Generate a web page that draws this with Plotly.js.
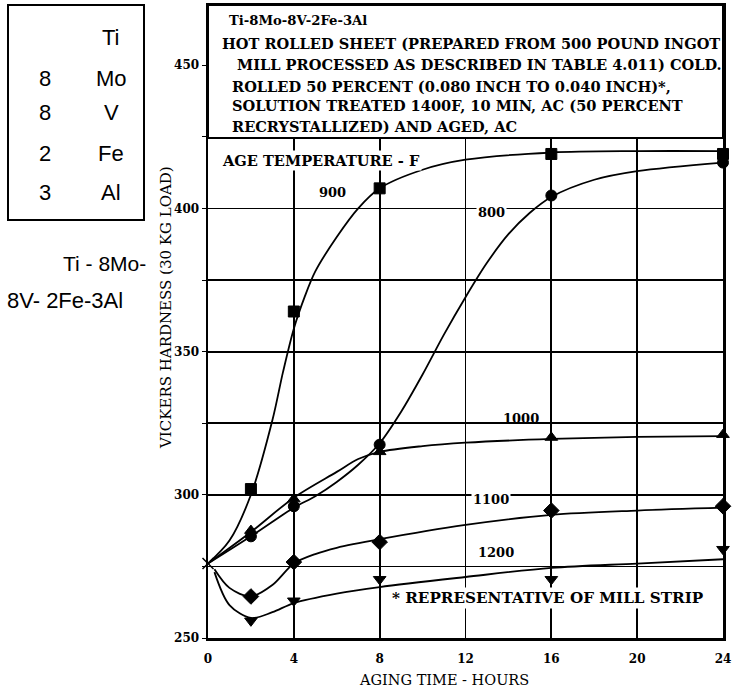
<!DOCTYPE html>
<html>
<head>
<meta charset="utf-8">
<script src="https://cdn.plot.ly/plotly-3.0.1.min.js"></script>
<style>html,body{margin:0;padding:0;background:#fff;}#chart{width:732px;height:692px;}</style>
</head>
<body>
<div id="chart"></div>
<script>
// ---- data ----
const xTickVals = [0, 4, 8, 12, 16, 20, 24];
const yTickVals = [250, 275, 300, 325, 350, 375, 400, 425, 450];
const yTickText = ['250', '', '300', '', '350', '', '400', '', '450'];

const startX = [0];
const startY = [276];

const hours = [2, 4, 8, 16, 24];
const pts900 = [302, 364, 407, 419, 419];
const pts800 = [285.5, 296, 317.5, 404.5, 416];
const pts1000 = [287.5, 298.5, 315, 320, 321];
const pts1100 = [264.5, 276.5, 283.5, 294.5, 296];
const pts1200 = [256, 263, 270.5, 270.5, 281];

// smooth faired curves as drawn in the figure
const c900x = [0, 1, 2, 3, 3.5, 4, 4.5, 5, 6, 7, 8, 10, 12, 16, 20, 24];
const c900y = [276, 284, 300, 326, 343, 358, 369, 378, 390, 400, 407, 413.5, 417, 419.5, 420, 420];
const c800x = [0, 2, 4, 5, 6, 7, 8, 9, 10, 11, 12, 13, 14, 15, 16, 18, 20, 24];
const c800y = [276, 285.5, 295.5, 299.5, 304.5, 310.5, 318, 329, 342, 356, 369, 381, 391, 398.5, 404, 410, 413, 416];
const c1000x = [0, 2, 4, 6, 7, 8, 10, 12, 16, 20, 24];
const c1000y = [276, 287, 299, 308, 312.5, 315, 317, 318.2, 319.5, 320.2, 320.5];
const c1100x = [0.3, 1, 2, 3, 4, 5, 6, 8, 12, 16, 20, 24];
const c1100y = [274, 267.5, 264.5, 268.5, 276, 279.3, 281.5, 284.5, 289.5, 293, 294.5, 295.5];
const c1200x = [0.3, 1, 2, 3, 4, 6, 8, 12, 16, 20, 24];
const c1200y = [273, 261.5, 257, 259, 262.2, 265.5, 267.8, 271.3, 274.5, 276, 277.5];

const boxLines = [
  'Ti-8Mo-8V-2Fe-3Al',
  'HOT ROLLED SHEET (PREPARED FROM 500 POUND INGOT',
  'MILL PROCESSED AS DESCRIBED IN TABLE 4.011) COLD.',
  'ROLLED 50 PERCENT (0.080 INCH TO 0.040 INCH)*,',
  'SOLUTION TREATED 1400F, 10 MIN, AC (50 PERCENT',
  'RECRYSTALLIZED) AND AGED, AC'
];
const compNums = ['', '8', '8', '2', '3'];
const compEls = ['Ti', 'Mo', 'V', 'Fe', 'Al'];

// ---- chart ----
const serif = 'DejaVu Serif, Liberation Serif, serif';
const sans = 'Liberation Sans, Arial, sans-serif';

function curve(x, y) {
  return {x: x, y: y, type: 'scatter', mode: 'lines', hoverinfo: 'skip',
    line: {color: '#000', width: 1.8, shape: 'spline', smoothing: 0.9}, showlegend: false};
}
function marks(x, y, sym, size) {
  return {x: x, y: y, type: 'scatter', mode: 'markers', cliponaxis: false,
    marker: {symbol: sym, size: size, color: '#000', line: {color: '#000', width: 1}}, showlegend: false};
}

const traces = [
  curve(c900x, c900y), curve(c800x, c800y), curve(c1000x, c1000y),
  curve(c1100x, c1100y), curve(c1200x, c1200y),
  marks(hours, pts900, 'square', 11),
  marks(hours, pts800, 'circle', 11),
  marks(hours, pts1000, 'triangle-up', 11),
  marks(hours, pts1100, 'diamond', 12),
  marks(hours, pts1200, 'triangle-down', 11),
  {x: startX, y: startY, type: 'scatter', mode: 'markers', cliponaxis: false,
   marker: {symbol: 'x-thin-open', size: 11, color: '#000', line: {color: '#000', width: 1.5}}, showlegend: false}
];

// pixel -> paper helpers (plot area: x 208..723, y 5..638)
const L = 208, R = 723, T = 5, B = 638;
const px = v => (v - L) / (R - L);
const py = v => (B - v) / (B - T);
const hx = v => (v - L) / ((R - L) / 24);   // pixel -> hours

const annotations = [];
// text box lines
const boxLeft = [227, 220, 235, 230, 230, 230];
const boxY = [20, 43, 65, 86, 106, 126];
boxLines.forEach((t, i) => {
  annotations.push({xref: 'paper', yref: 'paper', x: px(boxLeft[i]), y: py(boxY[i]),
    xanchor: 'left', yanchor: 'middle', showarrow: false, text: t,
    font: {family: serif, size: i === 0 ? 13.2 : 14.6, color: '#000', weight: 'bold'}});
});
// composition box
compEls.forEach((t, i) => {
  const yy = [38, 78, 113, 153, 192][i];
  annotations.push({xref: 'paper', yref: 'paper', x: px(111), y: py(yy), xanchor: 'center', yanchor: 'middle',
    showarrow: false, text: t, font: {family: sans, size: 22, color: '#000'}});
  if (compNums[i]) annotations.push({xref: 'paper', yref: 'paper', x: px(45), y: py(yy), xanchor: 'center', yanchor: 'middle',
    showarrow: false, text: compNums[i], font: {family: sans, size: 22, color: '#000'}});
});
annotations.push({xref: 'paper', yref: 'paper', x: px(148), y: py(263), xanchor: 'right', yanchor: 'middle',
  showarrow: false, text: 'Ti - 8Mo-', font: {family: sans, size: 21, color: '#000'}});
annotations.push({xref: 'paper', yref: 'paper', x: px(5), y: py(300), xanchor: 'left', yanchor: 'middle',
  showarrow: false, text: '8V- 2Fe-3Al', font: {family: sans, size: 22, color: '#000'}});
// axis titles
annotations.push({xref: 'paper', yref: 'paper', x: px(444), y: py(680), xanchor: 'center', yanchor: 'middle',
  showarrow: false, text: 'AGING TIME - HOURS', font: {family: serif, size: 14.5, color: '#000'}});
annotations.push({xref: 'paper', yref: 'paper', x: px(166), y: py(308), xanchor: 'center', yanchor: 'middle',
  showarrow: false, textangle: -90, text: 'VICKERS HARDNESS (30 KG LOAD)', font: {family: serif, size: 15, color: '#000'}});
// in-plot labels (data coords)
const lab = (x, y, t, opts) => Object.assign({xref: 'x', yref: 'y', x: x, y: y, showarrow: false, text: t,
  font: {family: serif, size: 13, color: '#000', weight: 'bold'}, xanchor: 'center', yanchor: 'middle'}, opts || {});
annotations.push(lab(hx(220), 416.9, 'AGE TEMPERATURE - F', {xanchor: 'left', bgcolor: '#fff', font: {family: serif, size: 14.6, color: '#000', weight: 'bold'}}));
annotations.push(lab(hx(332), 405.7, '900'));
annotations.push(lab(hx(491), 398.6, '800', {bgcolor: '#fff'}));
annotations.push(lab(hx(521), 326.8, '1000'));
annotations.push(lab(hx(491), 298.4, '1100', {bgcolor: '#fff'}));
annotations.push(lab(hx(496), 280, '1200'));
annotations.push(lab(hx(390), 264, '* REPRESENTATIVE OF MILL STRIP', {xanchor: 'left', bgcolor: '#fff', font: {family: serif, size: 15.2, color: '#000', weight: 'bold'}}));

const shapes = [
  {type: 'rect', xref: 'paper', yref: 'paper', x0: px(8), x1: px(144), y0: py(220), y1: py(5),
   line: {color: '#000', width: 2}, fillcolor: 'rgba(0,0,0,0)'},
  {type: 'rect', xref: 'paper', yref: 'paper', x0: 0, x1: 1, y0: py(138), y1: 1,
   line: {color: '#000', width: 2}, fillcolor: '#fff', layer: 'above'}
];

const layout = {
  width: 732, height: 692,
  margin: {l: L, r: 732 - R, t: T, b: 692 - B, pad: 0},
  paper_bgcolor: '#fff', plot_bgcolor: '#fff',
  showlegend: false,
  xaxis: {range: [0, 24], tickvals: xTickVals, showgrid: true, gridcolor: '#000', gridwidth: 1.8,
    zeroline: false, showline: true, linecolor: '#000', linewidth: 2.5, mirror: true, ticks: '',
    ticklabeloverflow: 'allow', ticklabelstandoff: 8,
    tickfont: {family: serif, size: 12, color: '#000', weight: 'bold'}},
  yaxis: {range: [250, 250 + (B - T) / 2.864], tickvals: yTickVals, ticktext: yTickText, showgrid: true,
    gridcolor: '#000', gridwidth: 1.8, zeroline: false, showline: true, linecolor: '#000', linewidth: 2.5,
    mirror: true, ticks: 'outside', ticklen: 4, tickcolor: '#000',
    tickfont: {family: serif, size: 12, color: '#000', weight: 'bold'}},
  annotations: annotations,
  shapes: shapes
};

Plotly.newPlot('chart', traces, layout, {staticPlot: true, displayModeBar: false});
</script>
</body>
</html>
